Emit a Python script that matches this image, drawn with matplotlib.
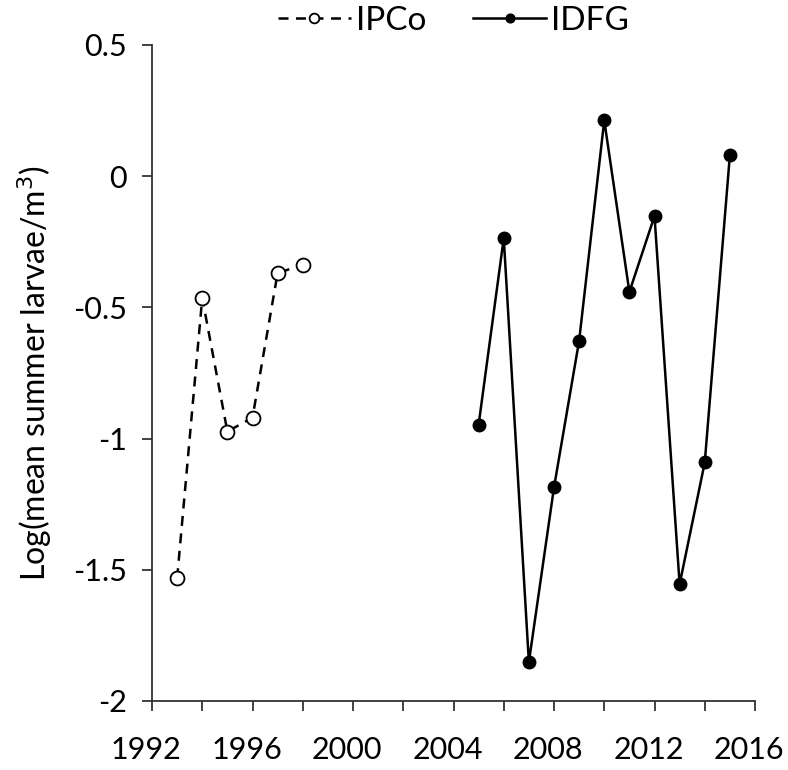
import matplotlib
matplotlib.use("Agg")
import matplotlib.pyplot as plt
import matplotlib.transforms as mtransforms
from matplotlib.ticker import MultipleLocator

plt.rcParams['font.family'] = ['Lato', 'DejaVu Sans']

# IPCo survey (dashed, open circles)
ipco_years = [1993, 1994, 1995, 1996, 1997, 1998]
ipco_vals = [-1.532, -0.464, -0.973, -0.920, -0.369, -0.338]

# IDFG survey (solid, filled circles)
idfg_years = [2005, 2006, 2007, 2008, 2009, 2010, 2011, 2012, 2013, 2014, 2015]
idfg_vals = [-0.947, -0.236, -1.852, -1.186, -0.627, 0.213, -0.441, -0.152, -1.555, -1.091, 0.080]

fig = plt.figure(figsize=(7.88, 7.70), dpi=100)
ax = fig.add_axes([152 / 788, 69 / 770, 603 / 788, 656 / 770])

ax.plot(ipco_years, ipco_vals, color='black', linestyle=(0, (4, 3)), linewidth=1.8,
        marker='o', markersize=10, markerfacecolor='white', markeredgecolor='black',
        markeredgewidth=1.3, label='IPCo')
ax.plot(idfg_years, idfg_vals, color='black', linestyle='-', linewidth=1.8,
        marker='o', markersize=9, markerfacecolor='black', markeredgecolor='black',
        label='IDFG')

ax.set_xlim(1992, 2016)
ax.set_ylim(-2, 0.5)
ax.xaxis.set_major_locator(MultipleLocator(4))
ax.xaxis.set_minor_locator(MultipleLocator(2))
ax.set_yticks([-2, -1.5, -1, -0.5, 0, 0.5])
ax.set_yticklabels(['-2', '-1.5', '-1', '-0.5', '0', '0.5'])

for s in ['top', 'right']:
    ax.spines[s].set_visible(False)
for s in ['left', 'bottom']:
    ax.spines[s].set_linewidth(1.3)
    ax.spines[s].set_color('#333333')

ax.tick_params(axis='both', which='both', direction='out', length=7, width=1.3,
               color='#333333', labelsize=22)
ax.tick_params(axis='x', pad=18)
ax.tick_params(axis='y', pad=11)

# nudge the year labels slightly left, like the original
shift = mtransforms.ScaledTranslation(-6 / 100, 0, fig.dpi_scale_trans)
for lbl in ax.get_xticklabels():
    lbl.set_transform(lbl.get_transform() + shift)

ax.set_ylabel('Log(mean summer larvae/m$^{3}$)', fontsize=23, labelpad=14)

ax.legend(loc='upper center', bbox_to_anchor=(0.5, 1.105), ncol=2, frameon=False,
          fontsize=24, handlelength=2.2, columnspacing=1.4, handletextpad=0.15,
          markerscale=0.7)

fig.savefig('out.png', dpi=100)
